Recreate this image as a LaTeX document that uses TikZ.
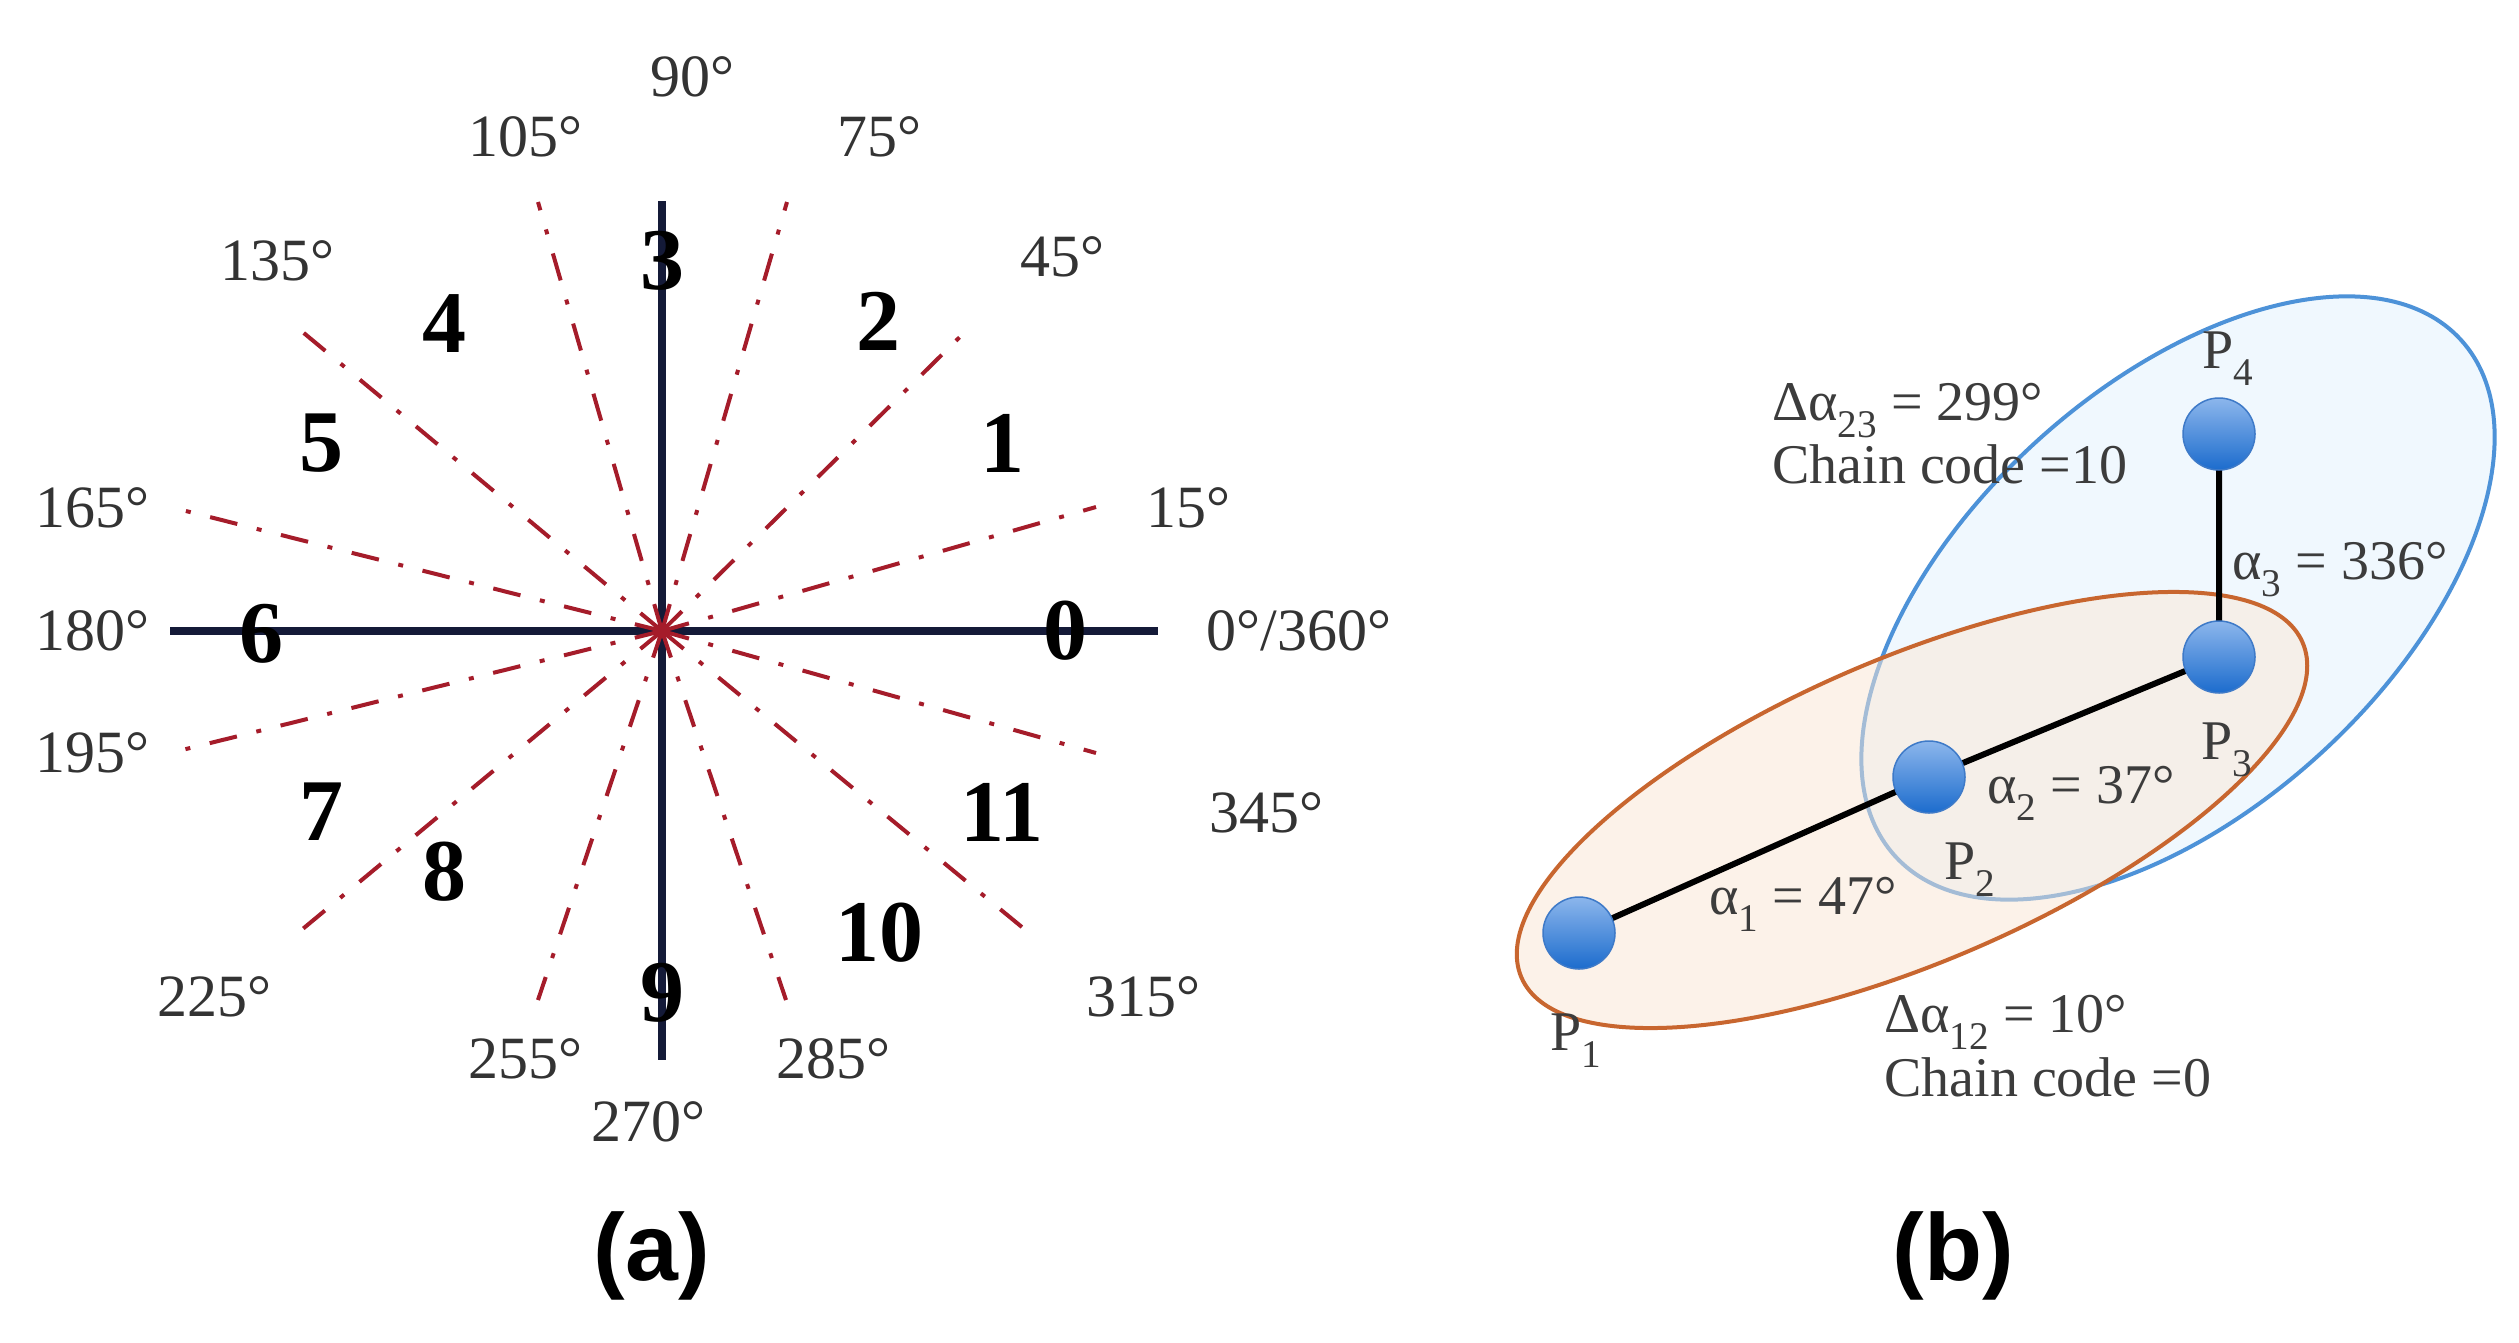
\documentclass[tikz,border=0pt]{standalone}
\usepackage{fontspec}
\setmainfont{Liberation Serif}
\newfontfamily\capfont{Liberation Sans}
\definecolor{navy}{RGB}{20,26,56}
\definecolor{raycol}{RGB}{165,28,42}
\definecolor{degcol}{RGB}{51,51,51}
\definecolor{btext}{RGB}{60,60,60}
\definecolor{bluefill}{RGB}{240,248,254}
\definecolor{blueline}{RGB}{77,146,216}
\definecolor{orfill}{RGB}{251,231,213}
\definecolor{orline}{RGB}{200,102,47}
\definecolor{balltop}{RGB}{140,182,236}
\definecolor{ballmid}{RGB}{88,148,218}
\definecolor{ballbot}{RGB}{28,108,205}
\definecolor{balledge}{RGB}{62,122,200}
\begin{document}
\begin{tikzpicture}[x=1pt,y=-1pt,
  deg/.style={text=degcol, font=\fontsize{60}{70}\selectfont, inner sep=0pt},
  zone/.style={text=black, font=\fontsize{88}{100}\selectfont\bfseries, inner sep=0pt},
  axisline/.style={line width=8pt, draw=navy},
  ray/.style={line width=4pt, draw=raycol, dash pattern=on 28pt off 20pt on 5pt off 20pt},
  caption/.style={font=\capfont\bfseries\fontsize{95}{110}\selectfont, inner sep=0pt},
  btxt/.style={text=btext, font=\fontsize{56}{66}\selectfont, inner sep=0pt, anchor=base west},
  ball/.style={circle, minimum size=72pt, inner sep=0pt, top color=balltop, middle color=ballmid, bottom color=ballbot, draw=balledge, line width=1.5pt},
  link/.style={line width=6pt, draw=black},
]
\useasboundingbox (0,0) rectangle (2519,1342);
\fill[white] (0,0) rectangle (2519,1342);

% ---------- panel (a) ----------
\coordinate (O) at (662,631);
\coordinate (axL) at (170,631);
\coordinate (axR) at (1158,631);
\coordinate (axT) at (662,201);
\coordinate (axB) at (662,1060);
\draw[axisline] (axL) -- (axR);
\draw[axisline] (axT) -- (axB);

\coordinate (r15) at (1096,507);
\coordinate (r45) at (973,324);
\coordinate (r75) at (787,202);
\coordinate (r105) at (538,202);
\coordinate (r135) at (293,324);
\coordinate (r165) at (170,507);
\coordinate (r195) at (170,753);
\coordinate (r225) at (293,937);
\coordinate (r255) at (538,1000);
\coordinate (r285) at (786,1000);
\coordinate (r315) at (1034,937);
\coordinate (r345) at (1096,753);
\foreach \r in {r15,r45,r75,r105,r135,r165,r195,r225,r255,r285,r315,r345}
  \draw[ray] (O) -- (\r);

\node[deg] (d90) at (692,77) {90°};
\node[deg] (d105) at (525,137) {105°};
\node[deg] (d75) at (879,137) {75°};
\node[deg] (d135) at (277,261) {135°};
\node[deg] (d45) at (1062,257) {45°};
\node[deg] (d165) at (92,508) {165°};
\node[deg] (d15) at (1188,508) {15°};
\node[deg] (d180) at (92,631) {180°};
\node[deg] (d0) at (1299,631) {0°/360°};
\node[deg] (d195) at (92,753) {195°};
\node[deg] (d345) at (1266,813) {345°};
\node[deg] (d225) at (214,997) {225°};
\node[deg] (d315) at (1143,997) {315°};
\node[deg] (d255) at (525,1059) {255°};
\node[deg] (d285) at (833,1059) {285°};
\node[deg] (d270) at (648,1122) {270°};

\node[zone] (z3) at (662,261) {3};
\node[zone] (z2) at (878,321) {2};
\node[zone] (z4) at (444,324) {4};
\node[zone] (z5) at (321,443) {5};
\node[zone] (z1) at (1002,443) {1};
\node[zone] (z6) at (261,634) {6};
\node[zone] (z0) at (1065,631) {0};
\node[zone] (z7) at (321,812) {7};
\node[zone] (z8) at (444,872) {8};
\node[zone] (z11) at (1002,812) {11};
\node[zone] (z10) at (879,933) {10};
\node[zone] (z9) at (662,993) {9};

\node[caption] (capa) at (652,1256) {(a)};

% ---------- panel (b) ----------
\filldraw[fill=bluefill, draw=blueline, line width=4pt, shift={(2178,598)}, rotate=42.4]
  (0,0) ellipse [x radius=383pt, y radius=211pt];
\filldraw[fill=orfill, fill opacity=0.5, draw=orline, line width=4pt, shift={(1912,810)}, rotate=23.2]
  (0,0) ellipse [x radius=425pt, y radius=152pt];

\coordinate (c1) at (1579,933);
\coordinate (c2) at (1929,777);
\coordinate (c3) at (2219,657);
\coordinate (c4) at (2219,434);
\draw[link] (c1) -- (c2) -- (c3) -- (c4);
\node[ball] (P1) at (c1) {};
\node[ball] (P2) at (c2) {};
\node[ball] (P3) at (c3) {};
\node[ball] (P4) at (c4) {};

\node[btxt] (lP4) at (2202,368) {P\textsubscript{4}};
\node[btxt] (lP3) at (2201,759) {P\textsubscript{3}};
\node[btxt] (lP2) at (1944,879) {P\textsubscript{2}};
\node[btxt] (lP1) at (1550,1050) {P\textsubscript{1}};
\node[btxt] (t23) at (1772,420) {Δα\textsubscript{23} = 299°};
\node[btxt] (cc10) at (1772,483) {Chain code =10};
\node[btxt] (a3) at (2232,579) {α\textsubscript{3} = 336°};
\node[btxt] (a2) at (1987,803) {α\textsubscript{2} = 37°};
\node[btxt] (a1) at (1709,914) {α\textsubscript{1} = 47°};
\node[btxt] (t12) at (1884,1032) {Δα\textsubscript{12} = 10°};
\node[btxt] (cc0) at (1884,1096) {Chain code =0};

\node[caption] (capb) at (1953,1256) {(b)};
\end{tikzpicture}
\end{document}
